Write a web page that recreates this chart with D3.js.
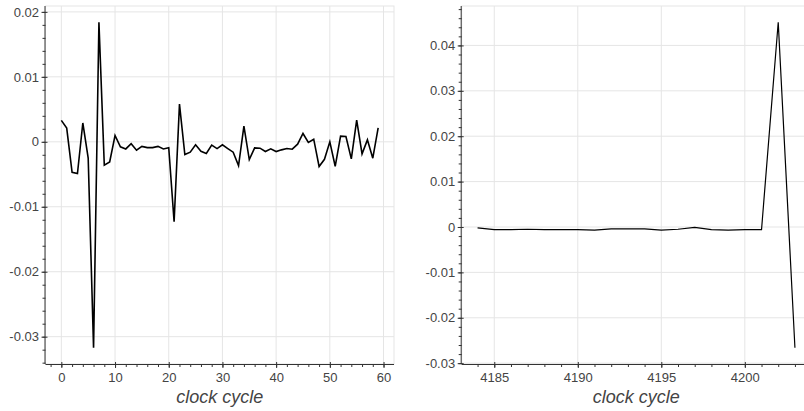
<!DOCTYPE html>
<html>
<head>
<meta charset="utf-8">
<script src="https://cdn.jsdelivr.net/npm/d3@7"></script>
<style>
  html, body { margin: 0; padding: 0; background: #fff; overflow: hidden; }
  svg { display: block; }
  .tick text { font-family: Arial, "Liberation Sans", Helvetica, sans-serif; font-size: 13px; fill: #444; }
  .axis-title { font-family: Arial, "Liberation Sans", Helvetica, sans-serif; font-size: 18px; font-style: italic; fill: #444; }
</style>
</head>
<body>
<svg id="chart" width="804" height="411"></svg>
<script>
// Early window: clock cycles 0..59
const earlyCycles = d3.range(0, 60);
const earlyValues = [
  0.0033, 0.0021, -0.0047, -0.0049, 0.0029, -0.0025, -0.0317, 0.0184, -0.0036, -0.0031,
  0.00097, -0.00077, -0.0011, -0.0003, -0.0013, -0.0007, -0.0009, -0.0009, -0.0007, -0.0011,
  -0.0009, -0.0123, 0.0058, -0.00196, -0.0016, -0.00046, -0.00145, -0.0018, -0.00052, -0.00104,
  -0.00046, -0.00104, -0.0016, -0.00366, 0.0024, -0.00274, -0.00093, -0.00098, -0.0015, -0.00108,
  -0.0015, -0.00124, -0.00104, -0.00114, -0.00037, 0.00128, -0.0001, 0.0004, -0.0038, -0.0027,
  0.0, -0.00377, 0.00087, 0.00082, -0.00263, 0.00334, -0.00186, 0.0003, -0.00253, 0.00216
];

// Late window: clock cycles 4184..4203
const lateCycles = d3.range(4184, 4204);
const lateValues = [
  -0.0002, -0.0006, -0.0006, -0.0005, -0.0006, -0.0006, -0.0006, -0.0007, -0.0004, -0.0004,
  -0.0004, -0.0007, -0.0005, -0.0001, -0.0006, -0.0007, -0.0006, -0.0006, 0.0451, -0.0266
];

// Tick values
const earlyXTicks = [0, 10, 20, 30, 40, 50, 60];
const earlyYTicks = [-0.03, -0.02, -0.01, 0, 0.01, 0.02];
const lateXTicks = [4185, 4190, 4195, 4200];
const lateYTicks = [-0.03, -0.02, -0.01, 0, 0.01, 0.02, 0.03, 0.04];

const svg = d3.select("#chart");

// Data range with 5% padding on each side
function paddedExtent(vals) {
  const [lo, hi] = d3.extent(vals);
  const pad = (hi - lo) * 0.05;
  return [lo - pad, hi + pad];
}

function fmt(v) {
  if (Math.abs(v) < 1e-12) return "0";
  return String(+v.toFixed(6));
}

function minorTicks(domain, step) {
  const out = [];
  const start = Math.ceil(domain[0] / step - 1e-9);
  const end = Math.floor(domain[1] / step + 1e-9);
  for (let k = start; k <= end; k++) out.push(+(k * step).toFixed(8));
  return out;
}

function drawPanel(opts) {
  const { left, right, top, bottom, xs, ys, xTicks, yTicks, xMinor, yMinor, lineWidth } = opts;
  const x = d3.scaleLinear().domain(paddedExtent(xs)).range([left, right]);
  const y = d3.scaleLinear().domain(paddedExtent(ys)).range([bottom, top]);
  const g = svg.append("g");

  // grid
  g.append("g").selectAll("line.vg").data(xTicks).join("line")
    .attr("x1", d => x(d)).attr("x2", d => x(d))
    .attr("y1", top).attr("y2", bottom)
    .attr("stroke", "#e5e5e5").attr("stroke-width", 1);
  g.append("g").selectAll("line.hg").data(yTicks).join("line")
    .attr("x1", left).attr("x2", right)
    .attr("y1", d => y(d)).attr("y2", d => y(d))
    .attr("stroke", "#e5e5e5").attr("stroke-width", 1);

  // outline
  g.append("rect")
    .attr("x", left).attr("y", top)
    .attr("width", right - left).attr("height", bottom - top)
    .attr("fill", "none").attr("stroke", "#e5e5e5").attr("stroke-width", 1);

  // series line
  const pts = xs.map((c, i) => [c, ys[i]]);
  g.append("path")
    .datum(pts)
    .attr("fill", "none")
    .attr("stroke", "#000")
    .attr("stroke-width", lineWidth)
    .attr("stroke-linejoin", "miter")
    .attr("d", d3.line().x(d => x(d[0])).y(d => y(d[1])));

  // x axis: minor then major
  const xMinorVals = minorTicks(x.domain(), xMinor);
  const xMinorAxis = g.append("g").attr("transform", `translate(0,${bottom})`)
    .call(d3.axisBottom(x).tickValues(xMinorVals).tickSize(3).tickSizeOuter(0).tickFormat(""));
  xMinorAxis.select(".domain").remove();
  const xAxis = g.append("g").attr("transform", `translate(0,${bottom})`)
    .call(d3.axisBottom(x).tickValues(xTicks).tickSize(4).tickSizeOuter(0).tickPadding(4.5).tickFormat(fmt));
  xAxis.selectAll(".tick line").attr("y1", -2);
  xAxis.select(".domain").attr("d", `M${left},0.5H${right}`);

  // y axis: minor then major
  const yMinorVals = minorTicks(y.domain(), yMinor);
  const yMinorAxis = g.append("g").attr("transform", `translate(${left},0)`)
    .call(d3.axisLeft(y).tickValues(yMinorVals).tickSize(3).tickSizeOuter(0).tickFormat(""));
  yMinorAxis.select(".domain").remove();
  const yAxis = g.append("g").attr("transform", `translate(${left},0)`)
    .call(d3.axisLeft(y).tickValues(yTicks).tickSize(4).tickSizeOuter(0).tickPadding(2.5).tickFormat(fmt));
  yAxis.selectAll(".tick line").attr("x1", 2);
  yAxis.select(".domain").attr("d", `M-0.5,${top}V${bottom}`);

  g.selectAll(".domain, .tick line").attr("stroke", "#333");
  g.selectAll(".tick text").attr("fill", "#444");

  // axis title
  g.append("text")
    .attr("class", "axis-title")
    .attr("x", (left + right) / 2)
    .attr("y", 403)
    .attr("text-anchor", "middle")
    .text("clock cycle");
}

drawPanel({
  left: 45.5, right: 394, top: 6, bottom: 364,
  xs: earlyCycles, ys: earlyValues,
  xTicks: earlyXTicks, yTicks: earlyYTicks,
  xMinor: 2, yMinor: 0.002, lineWidth: 1.6
});

drawPanel({
  left: 461.7, right: 810.8, top: 6, bottom: 364,
  xs: lateCycles, ys: lateValues,
  xTicks: lateXTicks, yTicks: lateYTicks,
  xMinor: 1, yMinor: 0.002, lineWidth: 1.2
});
</script>
</body>
</html>
